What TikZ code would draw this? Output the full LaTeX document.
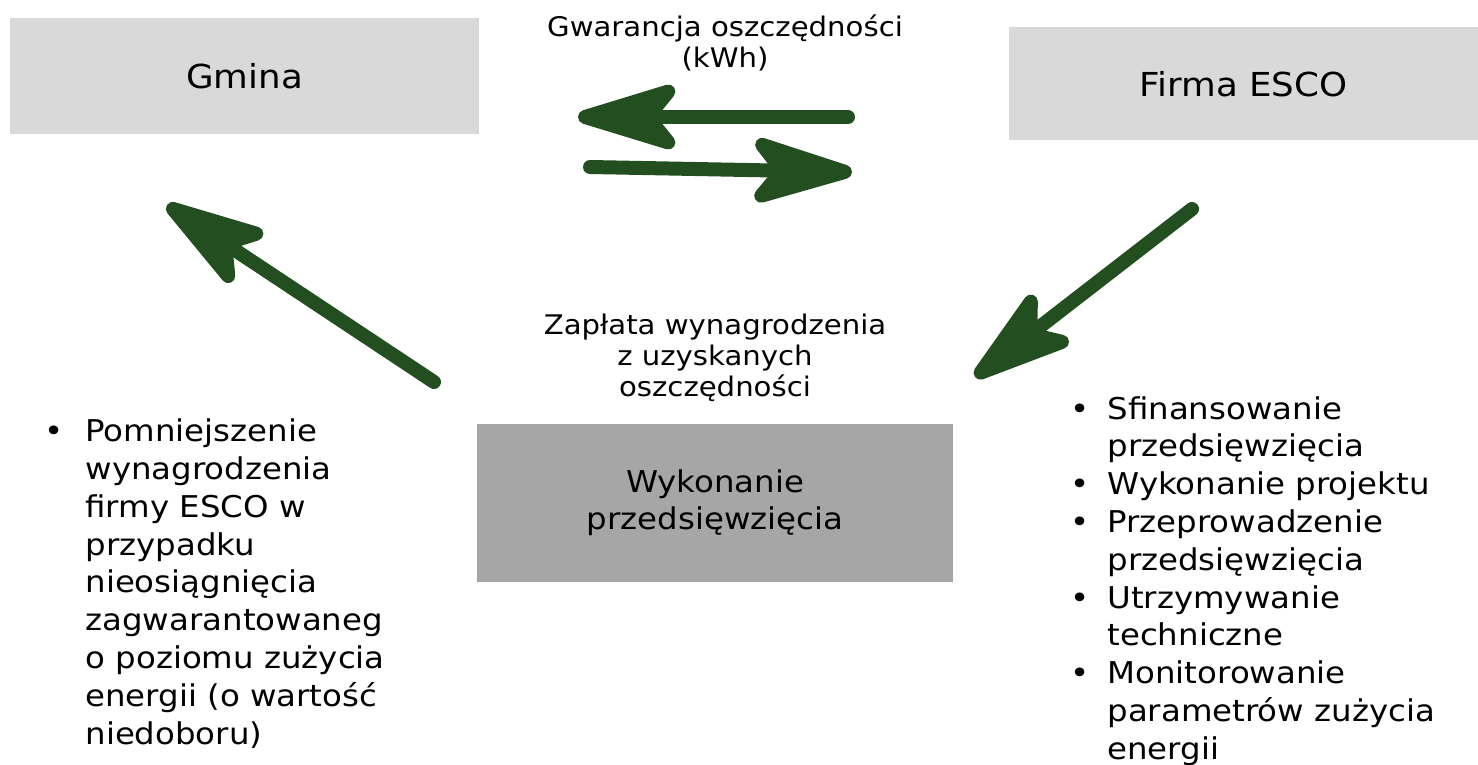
\documentclass[tikz,border=0pt]{standalone}
\usepackage{fontspec}
\setmainfont[FakeStretch=1.08]{DejaVu Sans}
\usetikzlibrary{arrows.meta}
\definecolor{boxlight}{HTML}{D9D9D9}
\definecolor{boxdark}{HTML}{A6A6A6}
\definecolor{arrowgreen}{HTML}{234E1F}

\begin{document}
\begin{tikzpicture}[
  x=0.5pt, y=-0.5pt,
  box/.style={rectangle, inner sep=0pt, align=center,
              minimum width=234.5pt, font=\fontsize{16.5pt}{20pt}\selectfont},
  caption/.style={align=center, inner sep=0pt,
                  font=\fontsize{13.5pt}{15.5pt}\selectfont},
  bullets/.style={anchor=base west, inner sep=0pt,
                  font=\fontsize{15pt}{18.9pt}\selectfont},
  flow/.style={draw=arrowgreen, line width=7pt, line cap=round,
               -{Stealth[length=63pt, width=38pt, inset=15pt, round]}}
]
\useasboundingbox (0,0) rectangle (1478,765);

\node[box, fill=boxlight, minimum height=58pt] (gmina) at (244.5,76) {Gmina};
\node[box, fill=boxlight, minimum height=56.5pt] (esco) at (1243.5,84) {Firma ESCO};
\node[box, fill=boxdark, minimum width=238pt, minimum height=79pt,
      font=\fontsize{15pt}{18.3pt}\selectfont] (wykon) at (715,503)
  {Wykonanie\\przedsięwzięcia};

\node[caption] (gwar) at (725,43) {Gwarancja oszczędności\\(kWh)};
\node[caption] (zaplata) at (715,358) {Zapłata wynagrodzenia\\z uzyskanych\\oszczędności};

\node[bullets] (lewa) at (44,441.7) {\begin{tabular}[t]{@{}l@{\hspace{11pt}}l@{}}
• & Pomniejszenie\\
  & wynagrodzenia\\
  & firmy ESCO w\\
  & przypadku\\
  & nieosiągnięcia\\
  & zagwarantowaneg\\
  & o poziomu zużycia\\
  & energii (o wartość\\
  & niedoboru)
\end{tabular}};

\node[bullets] (prawa) at (1070,419) {\begin{tabular}[t]{@{}l@{\hspace{9pt}}l@{}}
• & Sfinansowanie\\
  & przedsięwzięcia\\
• & Wykonanie projektu\\
• & Przeprowadzenie\\
  & przedsięwzięcia\\
• & Utrzymywanie\\
  & techniczne\\
• & Monitorowanie\\
  & parametrów zużycia\\
  & energii
\end{tabular}};

\coordinate (w1a) at (848,117);
\coordinate (w1b) at (578,117);
\coordinate (w2a) at (590,167);
\coordinate (w2b) at (852,172);
\coordinate (w3a) at (434,382);
\coordinate (w3b) at (167,205);
\coordinate (w4a) at (1192,209);
\coordinate (w4b) at (975,377);

\draw[flow] (w1a) -- (w1b);
\draw[flow] (w2a) -- (w2b);
\draw[flow] (w3a) -- (w3b);
\draw[flow] (w4a) -- (w4b);

\end{tikzpicture}
\end{document}
